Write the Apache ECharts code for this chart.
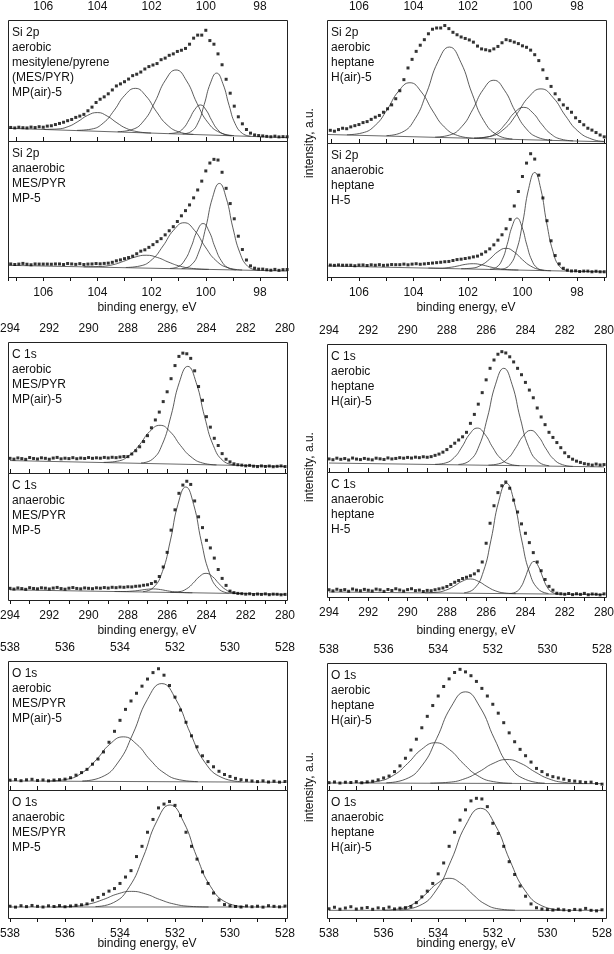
<!DOCTYPE html>
<html>
<head>
<meta charset="utf-8">
<script src="https://cdn.jsdelivr.net/npm/echarts@6/dist/echarts.min.js"></script>
<style>
  html, body { margin: 0; padding: 0; background: #fff; }
  #main { width: 614px; height: 954px; }
</style>
</head>
<body>
<div id="main"></div>
<script>
// binding energy grid of the measured points (first value, step)
const siStart = 107.2, siStep = 0.15;
const cStart = 294.0, cStep = 0.2;
const oStart = 538.0, oStep = 0.2;

// measured intensities, a.u. (0 = panel floor, 100 = panel ceiling); one row per 1.5 eV
const siMpAir = [
  11.2,10.8,11.4,11.0,10.8,11.5,11.1,11.8,11.4,12.3,
  12.6,13.6,14.5,15.5,16.8,17.8,19.5,20.6,22.0,25.0,
  28.0,31.8,34.5,36.5,39.0,42.2,45.5,47.2,49.0,51.2,
  54.0,55.2,57.0,59.5,61.5,62.8,64.0,67.2,68.5,70.8,
  72.0,74.0,75.0,76.5,80.0,85.0,87.5,87.5,91.5,83.0,
  80.0,72.0,63.0,51.0,39.5,28.8,20.0,14.2,9.5,6.5,
  5.0,4.5,4.2,3.8,3.5,4.0,3.4,3.6,3.5
];
const siHAir = [
  9.5,10.3,9.6,10.9,12.0,11.6,13.1,14.1,15.0,16.6,
  17.4,19.2,21.0,22.4,25.0,27.8,31.0,36.0,42.5,51.5,
  61.0,68.0,74.5,79.5,84.0,88.8,92.5,93.5,93.5,95.5,
  93.0,90.0,88.0,86.2,85.0,83.8,82.0,78.8,76.5,75.8,
  75.0,76.5,78.5,81.5,84.0,83.2,82.0,80.8,79.0,77.8,
  75.5,71.8,67.0,59.5,52.5,46.0,40.0,35.2,31.0,28.2,
  25.0,20.5,17.5,14.8,12.0,10.5,8.5,6.5,5.0
];
const siMp = [
  9.6,9.2,9.5,10.0,9.4,9.0,9.6,9.5,9.5,9.5,
  9.4,9.6,9.6,9.2,9.9,9.6,9.3,9.8,9.2,9.5,
  9.6,9.9,9.7,10.0,10.2,10.8,11.9,12.6,13.5,14.3,
  15.3,17.1,19.0,20.0,21.8,23.8,26.0,28.2,31.0,34.0,
  37.0,40.8,45.0,48.8,53.0,58.2,64.0,70.5,78.0,83.8,
  86.5,86.0,77.0,65.2,54.0,42.8,30.0,20.2,12.5,8.2,
  6.5,5.8,5.8,5.3,5.0,5.6,4.9,5.4,5.5
];
const siH = [
  8.6,8.9,8.7,9.0,8.8,8.8,8.8,8.4,8.9,9.0,
  8.6,9.1,8.8,9.2,8.7,8.9,9.3,9.2,9.2,9.6,
  9.1,9.6,9.9,9.5,9.8,10.1,10.4,10.7,11.0,11.4,
  11.6,12.3,13.0,13.3,13.8,14.3,15.0,15.6,17.0,18.8,
  21.0,24.0,27.5,31.5,36.0,43.0,53.0,63.8,75.0,85.0,
  92.0,88.0,76.0,59.0,42.0,27.0,16.0,9.8,6.5,5.1,
  4.5,4.6,4.1,4.4,4.4,3.9,4.3,3.9,3.9
];
// one row per 2 eV
const cMpAir = [
  11.2,10.6,11.5,11.0,10.4,11.8,11.1,10.7,11.6,11.2,
  10.5,11.4,11.9,10.8,11.3,11.0,11.7,10.9,11.4,11.1,
  11.8,11.2,11.6,11.3,11.9,11.5,12.0,11.7,12.2,12.6,
  12.5,14.5,17.0,20.0,24.0,28.5,34.5,40.5,46.5,54.5,
  62.0,72.0,82.0,89.0,91.5,91.0,87.5,78.0,66.0,55.5,
  43.0,35.0,26.5,21.0,14.8,10.5,8.5,7.0,6.3,6.0,
  5.5,5.8,5.2,4.9,5.4,5.0,5.3,4.8,5.1,5.4,
  4.9
];
const cHAir = [
  10.2,9.6,10.8,9.9,10.5,9.4,10.9,10.1,9.7,10.6,
  10.0,9.5,10.8,10.3,9.8,11.0,10.2,10.6,11.2,10.8,
  11.4,10.9,11.6,11.2,11.9,11.5,12.0,13.0,14.0,15.5,
  17.5,20.0,22.5,25.0,27.5,31.0,38.0,45.0,53.0,62.0,
  72.0,81.0,87.5,92.0,94.0,93.0,90.0,86.0,81.0,76.0,
  70.0,64.0,58.0,50.0,43.0,37.0,31.0,27.0,23.0,19.0,
  15.0,12.0,10.0,8.5,7.5,6.5,6.0,5.4,6.2,5.5,
  5.8
];
const cMp = [
  9.2,8.6,9.5,9.0,8.4,9.7,9.1,8.8,9.6,9.3,
  8.7,9.4,9.9,9.0,8.5,9.3,9.8,9.1,8.8,9.5,
  9.2,8.9,9.6,9.3,9.8,9.4,10.0,9.7,10.2,10.0,
  10.4,10.3,10.8,11.0,11.6,12.0,13.0,14.4,18.5,26.0,
  37.5,55.0,71.0,84.0,90.5,93.5,91.0,78.0,65.5,57.0,
  47.0,41.0,33.0,24.0,17.0,11.5,7.0,5.8,5.2,5.0,
  4.6,4.9,4.3,4.7,4.4,4.8,4.2,4.6,4.5,4.1,
  4.4
];
const cH = [
  5.8,4.9,6.2,5.3,5.9,4.6,6.4,5.5,5.0,6.1,
  5.4,4.8,6.3,5.7,4.5,6.0,5.2,6.6,5.6,4.7,
  5.9,6.6,5.1,5.5,4.4,5.3,5.0,5.8,6.5,7.2,
  8.4,10.0,11.8,13.2,14.8,15.8,17.0,18.5,21.0,28.0,
  43.0,59.0,73.0,83.5,89.0,92.0,87.0,77.5,68.0,58.5,
  51.0,43.5,35.5,28.0,21.0,14.0,8.5,5.5,3.0,2.6,
  2.2,2.8,1.9,2.6,2.1,2.9,1.8,2.4,2.2,1.7,
  2.5
];
// one row per 2 eV
const oMpAir = [
  7.6,8.1,7.2,7.9,8.3,7.4,7.8,7.1,7.7,8.0,
  8.4,9.5,11.5,13.5,16,20,24,29.5,37,45.5,
  54,62.5,69,75,80.5,86,91,94,89,81,
  72,62,52.5,42,33.5,26.5,22,18,14.5,12,
  10.5,9,8,7.5,7,6.5,7.1,6.2,6.8,6.1,
  6.6
];
const oHAir = [
  5.8,6.3,5.5,6.1,5.9,6.6,5.7,6.4,6.9,8,
  9.5,11,14.5,19,25,31.5,40,49,58,66.5,
  74,81.5,87.5,92.5,95,93,90,85.5,80,74,
  67.5,60.5,53,45,38,32,27,22,17,14.5,
  12,10.5,9.5,8.5,7.5,7,6.5,6,6.2,5.1,
  4.6
];
const oMp = [
  9.2,8.5,9.6,8.9,9.8,9.1,8.6,9.5,9.0,9.7,
  8.8,9.4,9.9,10.3,11,14,16,18.5,21,23,
  27,32,37,48,56,67,77,86,89,91,
  88,80,67,56,46,36,27,19.5,14,10.5,
  9.5,9,8.6,9.4,8.8,9.2,8.5,9.6,9.1,8.7,
  9.3
];
const oH = [
  7.2,8.4,6.9,7.8,8.8,7.0,7.6,8.2,6.8,7.9,
  7.3,8.5,7.1,7.7,8.1,9,12,16.5,21,27,
  34.5,43,56,67,76.5,84.5,91.5,93.5,93,87,
  74,66,56,44,34,25,17,11,8,7,
  6.6,6.2,6.9,6.4,5.8,6.7,6.3,7.5,6.0,5.6,
  6.4
];

// fitted components: [binding energy, intensity]
const siMpAirFit = [
  [[105.98,9.6],[105.5,9.9],[105.08,11.9],[104.72,16.1],[104.36,21.2],[104.0,23.5],[103.64,20.6],[103.28,15.0],[102.92,10.3],[102.5,7.6],[102.02,6.6]],
  [[104.75,8.8],[104.23,9.8],[103.77,15.1],[103.38,25.4],[102.99,37.8],[102.6,43.5],[102.21,37.2],[101.82,24.2],[101.43,13.4],[100.98,7.4],[100.46,5.5]],
  [[103.25,7.7],[102.73,9.4],[102.27,17.2],[101.88,32.2],[101.49,50.3],[101.1,58.7],[100.71,49.7],[100.32,31.0],[99.93,15.5],[99.48,7.0],[98.96,4.5]],
  [[101.36,6.2],[101.08,6.9],[100.83,10.5],[100.62,17.5],[100.41,25.9],[100.2,29.8],[99.99,25.6],[99.78,16.9],[99.57,9.6],[99.33,5.6],[99.05,4.4]],
  [[100.85,5.9],[100.55,7.7],[100.28,15.4],[100.06,30.1],[99.83,47.8],[99.6,56.1],[99.37,47.4],[99.14,29.4],[98.92,14.4],[98.65,6.3],[98.35,4.0]]
];
const siHAirFit = [
  [[106.44,6.7],[105.88,8.2],[105.39,14.6],[104.97,27.0],[104.55,42.0],[104.13,49.0],[103.71,41.5],[103.29,26.0],[102.87,13.1],[102.38,6.1],[101.82,4.0]],
  [[104.99,6.0],[104.43,8.6],[103.94,19.7],[103.52,40.7],[103.1,66.1],[102.68,78.0],[102.26,65.6],[101.84,39.7],[101.42,18.2],[100.93,6.6],[100.37,3.3]],
  [[103.2,4.8],[102.68,6.4],[102.22,13.5],[101.83,27.0],[101.44,43.4],[101.05,51.0],[100.66,42.9],[100.27,26.1],[99.88,12.1],[99.43,4.5],[98.91,2.3]],
  [[101.77,3.9],[101.33,4.7],[100.94,8.5],[100.61,15.9],[100.28,24.9],[99.95,29.0],[99.62,24.5],[99.29,15.2],[98.96,7.4],[98.58,3.1],[98.14,1.8]],
  [[101.8,4.0],[101.2,5.3],[100.67,11.4],[100.22,23.2],[99.77,37.4],[99.32,44.0],[98.87,36.8],[98.42,22.1],[97.97,9.8],[97.45,3.1],[97.0,1.3]]
];
const siMpFit = [
  [[104.51,7.5],[103.95,7.7],[103.46,8.9],[103.04,11.5],[102.62,14.6],[102.2,16.0],[101.78,14.3],[101.36,10.8],[100.94,7.9],[100.45,6.2],[99.89,5.6]],
  [[102.95,7.0],[102.43,8.1],[101.97,13.1],[101.58,22.8],[101.19,34.4],[100.8,39.9],[100.41,34.1],[100.02,22.1],[99.63,12.2],[99.18,6.8],[98.66,5.2]],
  [[101.32,6.3],[101.03,7.5],[100.77,12.6],[100.54,22.2],[100.32,33.8],[100.1,39.3],[99.88,33.6],[99.66,21.9],[99.43,12.0],[99.18,6.8],[98.88,5.3]],
  [[100.89,6.2],[100.55,8.6],[100.26,18.3],[100.0,36.5],[99.75,58.5],[99.5,68.8],[99.25,58.3],[99.0,36.1],[98.74,17.7],[98.45,7.8],[98.11,5.1]]
];
const siHFit = [
  [[103.45,6.7],[103.05,6.6],[102.7,7.1],[102.4,8.1],[102.1,9.4],[101.8,9.9],[101.5,9.1],[101.2,7.6],[100.9,6.3],[100.55,5.5],[100.15,5.2]],
  [[102.25,6.2],[101.85,6.6],[101.5,9.0],[101.2,13.4],[100.9,18.9],[100.6,21.4],[100.3,18.6],[100.0,12.9],[99.7,8.2],[99.35,5.5],[98.95,4.7]],
  [[101.19,5.8],[100.95,7.3],[100.74,13.1],[100.56,24.3],[100.38,37.7],[100.2,44.0],[100.02,37.5],[99.84,24.0],[99.66,12.7],[99.45,6.6],[99.21,4.9]],
  [[100.77,5.8],[100.48,8.6],[100.22,19.7],[99.99,40.7],[99.77,66.1],[99.55,78.0],[99.33,65.9],[99.11,40.3],[98.88,19.1],[98.63,7.7],[98.33,4.7]]
];
const cMpAirFit = [
  [[289.23,8.1],[288.54,9.0],[287.93,13.4],[287.4,21.7],[286.88,31.8],[286.36,36.4],[285.84,31.4],[285.32,21.0],[284.79,12.4],[284.19,7.6],[283.49,6.2]],
  [[287.33,7.7],[286.75,10.5],[286.25,21.8],[285.81,43.3],[285.38,69.2],[284.95,81.4],[284.52,68.9],[284.09,42.8],[283.65,21.0],[283.15,9.3],[282.57,6.1]]
];
const cHAirFit = [
  [[288.6,6.0],[288.08,7.0],[287.62,11.4],[287.23,19.6],[286.84,29.6],[286.45,34.3],[286.06,29.4],[285.67,19.3],[285.28,10.9],[284.83,6.3],[284.31,5.0]],
  [[287.41,5.9],[286.85,8.8],[286.36,20.4],[285.94,42.2],[285.52,68.6],[285.1,81.0],[284.68,68.4],[284.26,41.9],[283.84,19.8],[283.35,8.1],[282.79,4.9]],
  [[285.88,5.4],[285.36,6.4],[284.9,10.5],[284.51,18.5],[284.12,28.0],[283.73,32.5],[283.34,27.8],[282.95,18.1],[282.56,10.0],[282.11,5.7],[281.59,4.4]]
];
const cMpFit = [
  [[288.68,6.7],[288.2,6.7],[287.78,7.0],[287.42,7.6],[287.06,8.4],[286.7,8.7],[286.34,8.2],[285.98,7.2],[285.62,6.4],[285.2,5.9],[284.72,5.7]],
  [[287.23,6.6],[286.7,9.8],[286.24,22.5],[285.84,46.5],[285.45,75.3],[285.05,89.0],[284.65,75.1],[284.26,46.1],[283.86,21.9],[283.4,9.0],[282.87,5.5]],
  [[285.84,6.0],[285.4,6.5],[285.01,8.8],[284.68,13.2],[284.35,18.5],[284.02,21.0],[283.69,18.4],[283.36,12.9],[283.03,8.3],[282.65,5.8],[282.2,5.1]]
];
const cHFit = [
  [[289.11,3.4],[288.55,3.7],[288.06,5.4],[287.64,8.6],[287.22,12.6],[286.8,14.4],[286.38,12.4],[285.96,8.4],[285.54,5.0],[285.05,3.2],[284.49,2.7]],
  [[287.12,3.4],[286.6,6.8],[286.14,20.4],[285.75,45.8],[285.36,76.5],[284.97,91.0],[284.58,76.4],[284.19,45.6],[283.8,20.0],[283.35,6.4],[282.83,2.8]],
  [[284.81,2.8],[284.51,3.8],[284.24,7.8],[284.02,15.2],[283.79,24.3],[283.56,28.5],[283.33,24.2],[283.1,15.1],[282.88,7.6],[282.61,3.5],[282.31,2.4]]
];
const oMpAirFit = [
  [[536.59,7.0],[535.93,8.3],[535.36,13.6],[534.86,23.5],[534.37,35.5],[533.88,41.2],[533.39,35.4],[532.9,23.3],[532.4,13.3],[531.83,7.9],[531.17,6.5]],
  [[535.37,7.0],[534.67,10.0],[534.06,21.7],[533.53,43.6],[533.01,70.0],[532.48,82.5],[531.96,69.9],[531.43,43.4],[530.91,21.3],[530.29,9.6],[529.59,6.5]]
];
const oHAirFit = [
  [[536.91,5.6],[536.23,6.8],[535.63,11.7],[535.12,20.9],[534.61,32.0],[534.1,37.2],[533.59,31.9],[533.08,20.8],[532.57,11.5],[531.98,6.6],[531.3,5.3]],
  [[535.9,5.7],[535.2,8.5],[534.58,19.6],[534.06,40.4],[533.53,65.4],[533.0,77.3],[532.47,65.3],[531.94,40.3],[531.42,19.4],[530.8,8.3],[530.1,5.4]],
  [[534.29,5.4],[533.61,6.1],[533.01,9.0],[532.5,14.4],[531.99,20.9],[531.48,24.0],[530.97,20.9],[530.46,14.3],[529.95,8.8],[529.36,5.9],[528.68,5.1]]
];
const oMpFit = [
  [[536.39,8.6],[535.71,9.1],[535.11,11.0],[534.6,14.5],[534.09,18.8],[533.58,20.8],[533.07,18.8],[532.56,14.5],[532.05,11.0],[531.46,9.1],[530.78,8.6]],
  [[534.89,8.9],[534.23,12.1],[533.66,24.4],[533.16,47.4],[532.67,75.2],[532.18,88.3],[531.69,75.2],[531.2,47.4],[530.7,24.4],[530.13,12.1],[529.47,8.9]]
];
const oHFit = [
  [[536.01,6.1],[535.43,7.1],[534.91,11.0],[534.48,18.2],[534.04,26.9],[533.6,31.0],[533.16,26.9],[532.72,18.2],[532.29,11.0],[531.78,7.1],[531.19,6.1]],
  [[535.42,6.3],[534.7,9.5],[534.07,21.8],[533.53,44.8],[532.99,72.6],[532.45,85.7],[531.91,72.6],[531.37,44.8],[530.83,21.8],[530.2,9.5],[529.48,6.3]]
];

// backgrounds under the fits
const siMpAirBg = [[107.3,10.5],[97,2.8]];
const siHAirBg = [[107.3,7],[97,1]];
const siMpBg = [[107.3,8.6],[97,4.4]];
const siHBg = [[107.3,8.3],[97,3.8]];
const cMpAirBg = [[294,9.5],[280,5]];
const cHAirBg = [[294,7],[280,4]];
const cMpBg = [[294,8],[280,4.5]];
const cHBg = [[294,4],[280,2]];
const oMpAirBg = [[538,7],[528,6]];
const oHAirBg = [[538,5.5],[528,5]];
const oMpBg = [[538,8.6],[528,8.6]];
const oHBg = [[538,6],[528,6]];

// panel captions
const captions = {
  siMpAir: 'Si 2p\naerobic\nmesitylene/pyrene\n(MES/PYR)\nMP(air)-5',
  siHAir: 'Si 2p\naerobic\nheptane\nH(air)-5',
  siMp: 'Si 2p\nanaerobic\nMES/PYR\nMP-5',
  siH: 'Si 2p\nanaerobic\nheptane\nH-5',
  cMpAir: 'C 1s\naerobic\nMES/PYR\nMP(air)-5',
  cHAir: 'C 1s\naerobic\nheptane\nH(air)-5',
  cMp: 'C 1s\nanaerobic\nMES/PYR\nMP-5',
  cH: 'C 1s\nanaerobic\nheptane\nH-5',
  oMpAir: 'O 1s\naerobic\nMES/PYR\nMP(air)-5',
  oHAir: 'O 1s\naerobic\nheptane\nH(air)-5',
  oMp: 'O 1s\nanaerobic\nMES/PYR\nMP-5',
  oH: 'O 1s\nanaerobic\nheptane\nH(air)-5'
};

const FONT = '"Liberation Sans", Arial, Helvetica, sans-serif';
const INK = '#111';

// frame: [left, top, width, height]; plot: [left, width, min eV, max eV]
const panels = [
  {key:'siMpAir', pts:siMpAir, e0:siStart, de:siStep, fit:siMpAirFit, bg:siMpAirBg, frame:[8,20,279,121], plot:[8,279.1,97,107.3], pos:'top'},
  {key:'siHAir', pts:siHAir, e0:siStart, de:siStep, fit:siHAirFit, bg:siHAirBg, frame:[327,20,279,123], plot:[327.6,276.6,97,107.15], pos:'top'},
  {key:'siMp', pts:siMp, e0:siStart, de:siStep, fit:siMpFit, bg:siMpBg, frame:[8,141,279,136], plot:[8,279.1,97,107.3], pos:'bottom'},
  {key:'siH', pts:siH, e0:siStart, de:siStep, fit:siHFit, bg:siHBg, frame:[327,143,279,134], plot:[327.6,276.6,97,107.15], pos:'bottom'},
  {key:'cMpAir', pts:cMpAir, e0:cStart, de:cStep, fit:cMpAirFit, bg:cMpAirBg, frame:[8,342,279,131], plot:[10,275,280,294], pos:'top'},
  {key:'cHAir', pts:cHAir, e0:cStart, de:cStep, fit:cHAirFit, bg:cHAirBg, frame:[327,344,279,128], plot:[329,275,280,294], pos:'top'},
  {key:'cMp', pts:cMp, e0:cStart, de:cStep, fit:cMpFit, bg:cMpBg, frame:[8,473,279,127], plot:[10,275,280,294], pos:'bottom'},
  {key:'cH', pts:cH, e0:cStart, de:cStep, fit:cHFit, bg:cHBg, frame:[327,472,279,125], plot:[329,275,280,294], pos:'bottom'},
  {key:'oMpAir', pts:oMpAir, e0:oStart, de:oStep, fit:oMpAirFit, bg:oMpAirBg, frame:[8,661,279,129], plot:[10,275,528,538], pos:'top'},
  {key:'oHAir', pts:oHAir, e0:oStart, de:oStep, fit:oHAirFit, bg:oHAirBg, frame:[327,663,279,127], plot:[329,273,528,538], pos:'top'},
  {key:'oMp', pts:oMp, e0:oStart, de:oStep, fit:oMpFit, bg:oMpBg, frame:[8,790,279,128], plot:[10,275,528,538], pos:'bottom'},
  {key:'oH', pts:oH, e0:oStart, de:oStep, fit:oHFit, bg:oHBg, frame:[327,790,279,128], plot:[329,273,528,538], pos:'bottom'}
];

const grid = [], xAxis = [], yAxis = [], series = [], graphic = [];

panels.forEach(function (p, i) {
  const [fl, ft, fw, fh] = p.frame;
  const [pl, pw, emin, emax] = p.plot;
  grid.push({left:pl, top:ft, width:pw, height:fh, show:false, containLabel:false, outerBoundsMode:'none'});
  xAxis.push({
    gridIndex:i, type:'value', inverse:true, min:emin, max:emax, interval:1,
    position:p.pos,
    axisLine:{show:false},
    axisTick:{show:true, inside:false, length:4, lineStyle:{color:INK, width:1}},
    axisLabel:{show:true, margin:p.pos === 'top' ? 7 : 10, fontSize:12, fontFamily:FONT, color:INK,
               formatter:function (v) { return (Number.isInteger(v) && v % 2 === 0) ? String(v) : ''; }},
    splitLine:{show:false}
  });
  yAxis.push({gridIndex:i, type:'value', min:0, max:100, show:false});

  const data = p.pts.map(function (v, k) { return [+(p.e0 - k * p.de).toFixed(2), v]; });
  series.push({type:'line', xAxisIndex:i, yAxisIndex:i, data:p.bg, showSymbol:false, symbol:'none',
               lineStyle:{color:'#444', width:0.8}, silent:true, z:2});
  p.fit.forEach(function (c) {
    series.push({type:'line', xAxisIndex:i, yAxisIndex:i, data:c, smooth:0.5, showSymbol:false, symbol:'none',
                 lineStyle:{color:'#333', width:0.8}, silent:true, z:2});
  });
  series.push({type:'scatter', xAxisIndex:i, yAxisIndex:i, data:data, symbol:'rect', symbolSize:3, clip:true,
               itemStyle:{color:'#000'}, silent:true, z:3});

  graphic.push({type:'rect', silent:true, z:10,
                shape:{x:fl + 0.5, y:ft + 0.5, width:fw, height:fh},
                style:{fill:null, stroke:'#222', lineWidth:1}});
  graphic.push({type:'text', x:fl + 4, y:ft + 5, silent:true,
                style:{text:captions[p.key], fontSize:12, fontFamily:FONT, fill:INK, lineHeight:15, verticalAlign:'top'}});
});

// axis titles
[[147,308],[466,308],[147,631],[466,631],[147,944],[466,944]].forEach(function (q) {
  graphic.push({type:'text', x:q[0], y:q[1], silent:true,
                style:{text:'binding energy, eV', fontSize:12, fontFamily:FONT, fill:INK, align:'center', verticalAlign:'middle'}});
});
[143, 467, 787].forEach(function (yc) {
  graphic.push({type:'text', x:310, y:yc, rotation:Math.PI / 2, silent:true,
                style:{text:'intensity, a.u.', fontSize:12, fontFamily:FONT, fill:INK, align:'center', verticalAlign:'middle'}});
});

const chart = echarts.init(document.getElementById('main'));
chart.setOption({animation:false, backgroundColor:'#fff', grid:grid, xAxis:xAxis, yAxis:yAxis, series:series, graphic:graphic});
</script>
</body>
</html>
